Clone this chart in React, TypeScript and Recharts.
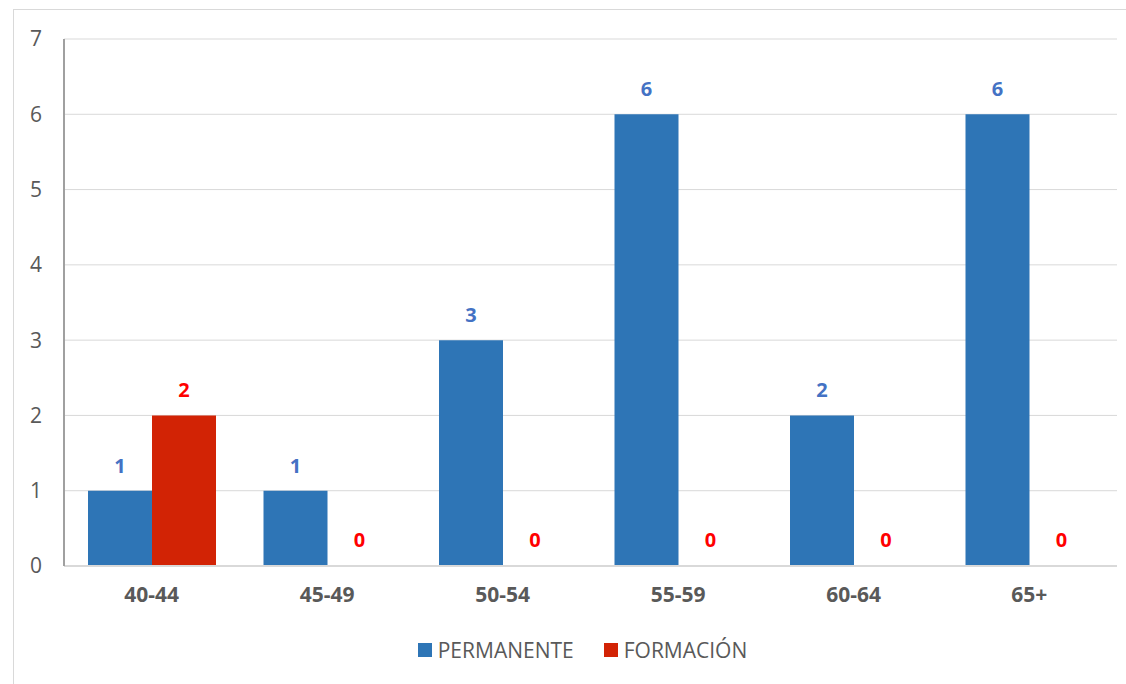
import { Bar, BarChart, CartesianGrid, Cell, Legend, XAxis, YAxis } from 'recharts'

const ageGroups = ['40-44', '45-49', '50-54', '55-59', '60-64', '65+']
const permanente = [1, 1, 3, 6, 2, 6]
const formacion = [2, 0, 0, 0, 0, 0]
const yTicks = [0, 1, 2, 3, 4, 5, 6, 7]

const BLUE = '#2E75B6'
const RED = '#D22305'
const FONT = '"Open Sans", "Noto Sans", sans-serif'

const data = ageGroups.map((group, i) => ({
  group,
  permanente: permanente[i],
  formacion: formacion[i],
}))

const legendItems = [
  { label: 'PERMANENTE', color: BLUE },
  { label: 'FORMACIÓN', color: RED },
]

function ChartLegend() {
  return (
    <div style={{ display: 'flex', justifyContent: 'center', height: 30, alignItems: 'center', gap: 30, paddingLeft: 48, fontFamily: FONT }}>
      {legendItems.map((it) => (
        <div key={it.label} style={{ display: 'flex', alignItems: 'center', gap: 6 }}>
          <span style={{ width: 14, height: 14, background: it.color, display: 'inline-block' }} />
          <span style={{ fontSize: 21, color: '#595959' }}>{it.label}</span>
        </div>
      ))}
    </div>
  )
}

// value label above each bar, zeros included
const makeLabel = (color: string) => (props: any) => {
  const { x, y, width, value } = props
  return (
    <text
      x={Number(x) + Number(width) / 2}
      y={Number(y) - 18}
      textAnchor="middle"
      fill={color}
      fontSize={20}
      fontWeight={700}
      fontFamily={FONT}
    >
      {value}
    </text>
  )
}

export default function App() {
  return (
    <div style={{ position: 'absolute', left: 0, top: 0, width: 1126, height: 684, overflow: 'hidden', background: '#fff' }}>
      <div
        style={{
          position: 'absolute',
          left: 13,
          top: 9,
          width: 1200,
          height: 800,
          border: '1px solid #D9D9D9',
        }}
      />
      <BarChart
        width={1126}
        height={684}
        data={data}
        margin={{ top: 39, right: 9, bottom: 19, left: 0 }}
        barCategoryGap={24}
        barGap={0}
      >
        <CartesianGrid vertical={false} stroke="#D9D9D9" />
        <XAxis
          dataKey="group"
          height={69}
          axisLine={{ stroke: '#D9D9D9', strokeWidth: 2 }}
          tickLine={false}
          tickSize={0}
          tickMargin={21}
          tick={{ fill: '#595959', fontSize: 21, fontWeight: 700, fontFamily: FONT }}
        />
        <XAxis xAxisId="top" orientation="top" dataKey="group" height={0} tick={false} tickLine={false} axisLine={{ stroke: '#A0A0A0', strokeWidth: 2 }} />
        <YAxis
          domain={[0, 7]}
          ticks={yTicks}
          width={64}
          axisLine={{ stroke: '#A0A0A0', strokeWidth: 2 }}
          tickLine={false}
          tickSize={0}
          tickMargin={22}
          tick={{ fill: '#595959', fontSize: 21, fontFamily: FONT }}
        />
        <YAxis yAxisId="right" orientation="right" domain={[0, 7]} width={0} tick={false} tickLine={false} axisLine={{ stroke: '#A0A0A0', strokeWidth: 2 }} />
        <Legend verticalAlign="bottom" content={() => <ChartLegend />} />
        <Bar dataKey="permanente" fill={BLUE} isAnimationActive={false} label={makeLabel('#4472C4')} />
        <Bar dataKey="formacion" fill={RED} minPointSize={1} isAnimationActive={false} label={makeLabel('#FF0000')}>
          {formacion.map((v, i) => (
            <Cell key={i} fill={v === 0 ? 'transparent' : RED} />
          ))}
        </Bar>
      </BarChart>
    </div>
  )
}
